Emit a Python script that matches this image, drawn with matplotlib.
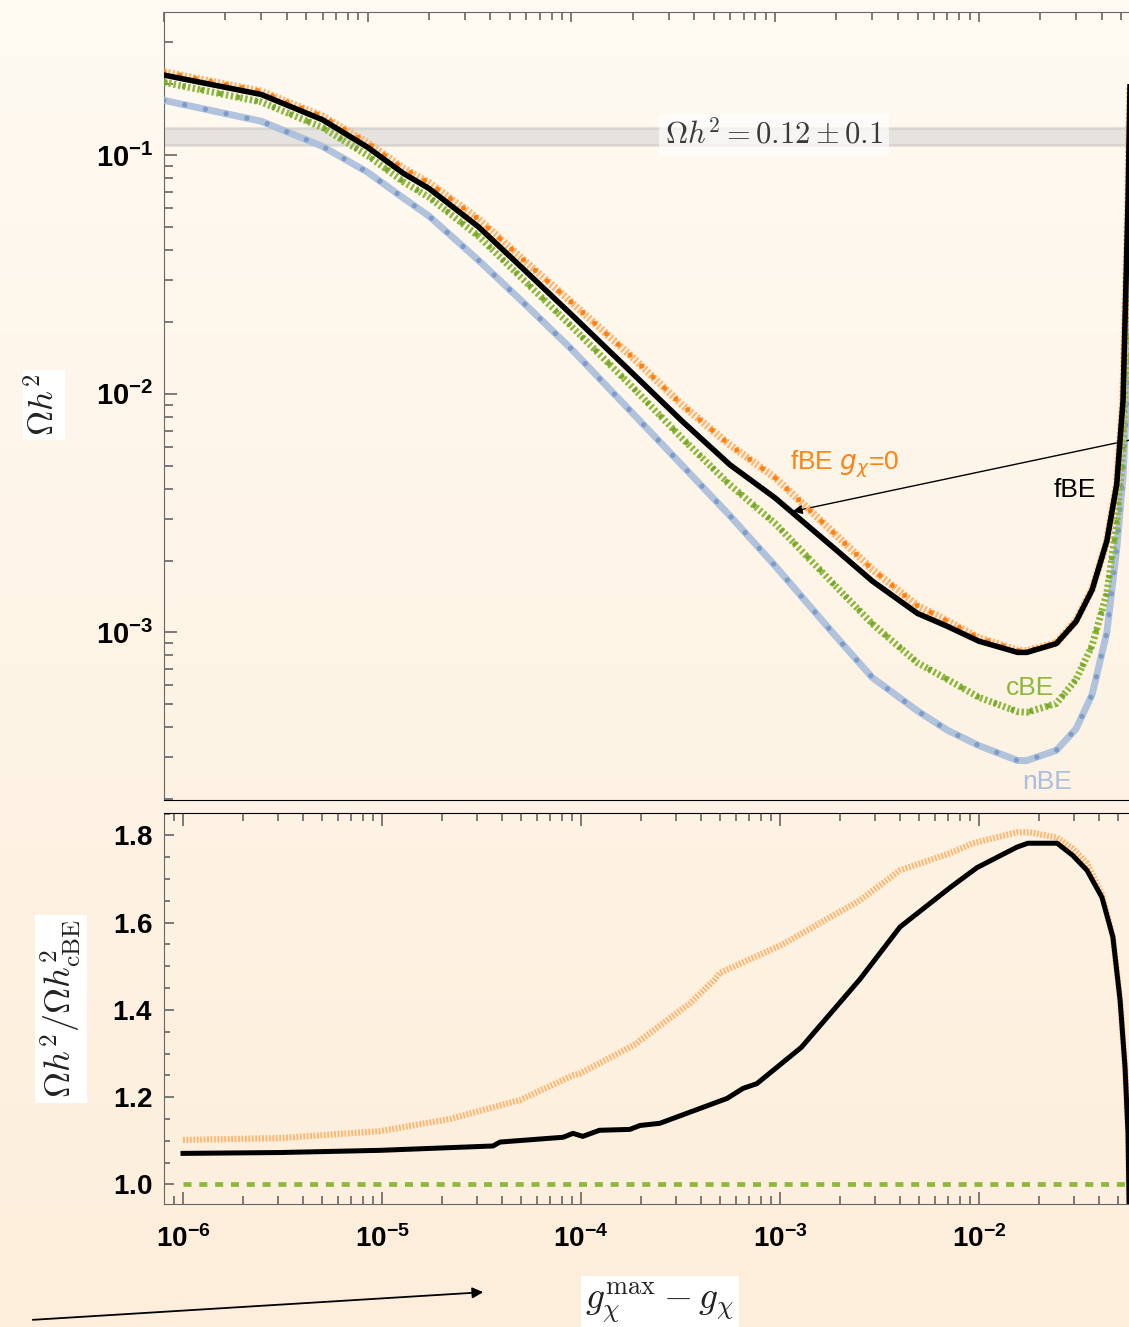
import numpy as np
import matplotlib.pyplot as plt
from matplotlib.colors import LinearSegmentedColormap
from matplotlib.ticker import LogLocator, MultipleLocator, NullFormatter, FuncFormatter

plt.rcParams['font.family'] = 'Liberation Sans'
plt.rcParams['mathtext.fontset'] = 'custom'
plt.rcParams['mathtext.rm'] = 'Liberation Sans'
plt.rcParams['mathtext.it'] = 'Liberation Sans:italic'
plt.rcParams['mathtext.bf'] = 'Liberation Sans:bold'

#%% relic abundance vs g_chi^max - g_chi
dg = [1e-6, 3e-6, 6e-6, 1e-5, 1.5e-5, 2e-5, 3.5e-5, 6e-5, 1e-4, 2e-4, 3.5e-4, 6e-4,
      1e-3, 2e-3, 3e-3, 5e-3, 7e-3, 1e-2, 1.55e-2, 1.72e-2, 2.4e-2, 3e-2, 3.6e-2,
      4.25e-2, 4.75e-2, 5.1e-2, 5.4e-2, 5.6e-2]
omega_fbe = [0.217, 0.180, 0.141, 0.108, 0.0839, 0.0726, 0.0501, 0.0325, 0.0215, 0.01216,
             7.67e-3, 5.04e-3, 3.66e-3, 2.21e-3, 1.64e-3, 1.20e-3, 1.06e-3, 9.18e-4, 8.24e-4,
             8.24e-4, 8.97e-4, 1.11e-3, 1.51e-3, 2.42e-3, 4.17e-3, 9.33e-3, 0.0646, 0.40]
omega_fbe_g0 = [0.2235, 0.1855, 0.1458, 0.1128, 0.0881, 0.0767, 0.0540, 0.0356, 0.0242, 0.0142,
                8.97e-3, 6.10e-3, 4.45e-3, 2.55e-3, 1.835e-3, 1.293e-3, 1.116e-3, 9.48e-4, 8.39e-4,
                8.35e-4, 9.03e-4, 1.12e-3, 1.52e-3, 2.42e-3, 4.17e-3, 9.33e-3, 0.0646, 0.40]
omega_cbe = [0.2024, 0.1674, 0.1308, 0.0998, 0.0773, 0.0667, 0.0458, 0.0293, 0.0192, 0.01064,
             6.50e-3, 4.15e-3, 2.86e-3, 1.55e-3, 1.086e-3, 7.45e-4, 6.35e-4, 5.34e-4, 4.65e-4,
             4.62e-4, 5.03e-4, 6.34e-4, 8.83e-4, 1.46e-3, 2.85e-3, 6.0e-3, 0.025, 0.30]
omega_nbe = [0.170, 0.139, 0.109, 0.0849, 0.0661, 0.0556, 0.0363, 0.0235, 0.0154, 8.28e-3,
             5.01e-3, 3.08e-3, 1.90e-3, 9.55e-4, 6.46e-4, 4.68e-4, 3.89e-4, 3.35e-4, 2.90e-4,
             2.90e-4, 3.20e-4, 3.94e-4, 5.50e-4, 1.0e-3, 2.24e-3, 4.47e-3, 0.0126, 0.16]

# ratios to cBE
dg_r1 = [1e-6, 3.09e-6, 9.77e-6, 3.61e-5, 3.92e-5, 8.13e-5, 9.12e-5, 1.02e-4, 1.24e-4, 1.76e-4,
         1.98e-4, 2.49e-4, 5.42e-4, 6.52e-4, 7.66e-4, 1.28e-3, 2.52e-3, 4.01e-3, 7.14e-3, 9.77e-3,
         1.55e-2, 1.76e-2, 2.47e-2, 2.96e-2, 3.49e-2, 4.15e-2, 4.71e-2, 5.12e-2, 5.42e-2, 5.61e-2, 5.75e-2]
ratio_fbe = [1.071, 1.073, 1.078, 1.088, 1.097, 1.108, 1.117, 1.110, 1.124, 1.126,
             1.135, 1.140, 1.197, 1.220, 1.231, 1.314, 1.470, 1.590, 1.680, 1.726,
             1.773, 1.782, 1.782, 1.754, 1.720, 1.658, 1.567, 1.422, 1.269, 1.118, 0.80]
dg_r2 = [1e-6, 3.07e-6, 9.77e-6, 2.2e-5, 4.55e-5, 4.93e-5, 9.12e-5, 9.89e-5, 1.91e-4, 1.98e-4,
         3.53e-4, 4.71e-4, 4.99e-4, 1.02e-3, 2.52e-3, 4.01e-3, 7.14e-3, 9.33e-3, 1.55e-2, 1.80e-2,
         2.47e-2, 2.96e-2, 3.49e-2, 4.15e-2, 4.71e-2, 5.12e-2, 5.42e-2, 5.61e-2, 5.75e-2]
ratio_fbe_g0 = [1.102, 1.106, 1.122, 1.150, 1.189, 1.193, 1.250, 1.254, 1.323, 1.330,
                1.415, 1.470, 1.485, 1.549, 1.651, 1.720, 1.759, 1.782, 1.807, 1.807,
                1.795, 1.770, 1.736, 1.665, 1.567, 1.422, 1.269, 1.118, 0.80]
ratio_cbe = [1.0, 1.0]
dg_cbe = [1e-6, 6e-2]

planck = 0.12
planck_err = 0.012

#%% colores
c_or = '#ff8214'
c_or_l = '#ffb670'
c_gr = '#8db83c'
c_gr_d = '#78a82e'
c_bl = '#a9bedb'
c_bl_d = '#7c9bcb'
c_tick = '#666666'

W, H = 1129, 1327
fig = plt.figure(figsize=(W / 100, H / 100), dpi=100)

# fondo con degradado
bg = fig.add_axes([0, 0, 1, 1], zorder=-10)
cmap = LinearSegmentedColormap.from_list('fondo', ['#fffaf2', '#fef4e6', '#fdeedb'])
bg.imshow(np.linspace(0, 1, 256)[:, None], aspect='auto', cmap=cmap,
          extent=[0, 1, 0, 1], origin='upper')
bg.axis('off')

def pos(x0, y0, x1, y1):
    return [x0 / W, 1 - y1 / H, (x1 - x0) / W, (y1 - y0) / H]

tx = lambda x, y: (x, H - y)

ax1 = fig.add_axes(pos(164, 12, 1129, 800))
ax2 = fig.add_axes(pos(164, 812.7, 1129, 1204))
for ax in (ax1, ax2):
    ax.set_facecolor('none')
    ax.spines['right'].set_visible(False)

#%% panel superior
ax1.set_xscale('log')
ax1.set_yscale('log')
ax1.set_xlim(1e-6, 10 ** -1.263)
ax1.set_ylim(10 ** -3.703, 10 ** -0.399)

ax1.axhspan(planck - planck_err, planck + planck_err, color='#e6e3de', lw=0, zorder=1)
for v in (0.1101, 0.1284):
    ax1.axhline(v, color='#d8d5d0', lw=1.5, zorder=1)

# linea gruesa + punteado oscuro encima
ax1.plot(dg, omega_nbe, color=c_bl, lw=5, alpha=0.9, zorder=3)
ax1.plot(dg, omega_nbe, color=c_bl_d, lw=3.8, ls=(0, (0.01, 4.0)),
         dash_capstyle='round', zorder=3)
ax1.plot(dg, omega_cbe, color=c_gr, lw=5, ls=(0, (0.35, 0.35)), zorder=4)
ax1.plot(dg, omega_cbe, color=c_gr_d, lw=3.6, ls=(0, (0.7, 3.0)), zorder=4)
ax1.plot(dg, omega_fbe_g0, color=c_or_l, lw=5.5, ls=(0, (0.3, 0.25)), zorder=5)
ax1.plot(dg, omega_fbe_g0, color=c_or, lw=3.8, ls=(0, (0.01, 3.0)),
         dash_capstyle='round', zorder=5)
ax1.plot(dg, omega_fbe, color='black', lw=4, zorder=6)

ax1.annotate(r'$\Omega h^2 = 0.12 \pm 0.1$', xy=tx(774, 135), xycoords='figure pixels',
             fontsize=22, color='#3a3a3a', ha='center', va='center', math_fontfamily='cm',
             bbox=dict(fc='white', ec='none', alpha=0.65, pad=4), zorder=7)

ax1.annotate(r'fBE $g_\chi$=0', xy=tx(845, 464), xycoords='figure pixels', fontsize=19,
             color=c_or, ha='center', va='center', math_fontfamily='dejavusans')
ax1.annotate('fBE', xy=tx(1075, 490), xycoords='figure pixels', fontsize=19,
             color='black', ha='center', va='center')
ax1.annotate('cBE', xy=tx(1030, 688), xycoords='figure pixels', fontsize=19,
             color=c_gr, ha='center', va='center')
ax1.annotate('nBE', xy=tx(1047, 782), xycoords='figure pixels', fontsize=19,
             color=c_bl, ha='center', va='center')
ax1.annotate('', xy=tx(790, 512), xycoords='figure pixels', xytext=tx(1135, 439),
             textcoords='figure pixels', annotation_clip=False,
             arrowprops=dict(arrowstyle='-|>', color='black', lw=1.0, mutation_scale=14))

ax1.xaxis.set_major_locator(LogLocator(base=10, numticks=20))
ax1.xaxis.set_minor_locator(LogLocator(base=10, subs=np.arange(2, 10), numticks=20))
ax1.yaxis.set_major_locator(LogLocator(base=10, numticks=20))
ax1.yaxis.set_minor_locator(LogLocator(base=10, subs=np.arange(2, 10), numticks=20))
ax1.xaxis.set_minor_formatter(NullFormatter())
ax1.yaxis.set_minor_formatter(NullFormatter())
pot = FuncFormatter(lambda v, p: r'$\mathbf{10^{%d}}$' % round(np.log10(v)))
ax1.yaxis.set_major_formatter(pot)
ax1.tick_params(which='both', direction='in', top=True, bottom=False, right=False,
                labelbottom=False, color=c_tick, width=1.2, labelsize=21, pad=8)
ax1.tick_params(axis='x', which='major', length=7.5)
ax1.tick_params(axis='x', which='minor', length=5.5)
ax1.tick_params(axis='y', which='major', length=9.5)
ax1.tick_params(axis='y', which='minor', length=6.5)
for s in ('top', 'left'):
    ax1.spines[s].set_color(c_tick)
ax1.spines['bottom'].set_color('black')

#%% panel inferior
ax2.set_xscale('log')
ax2.set_xlim(10 ** -6.0955, 10 ** -1.246)
ax2.set_ylim(0.955, 1.852)
ax2.plot(dg_cbe, ratio_cbe, color=c_gr, lw=3.4, ls=(0, (1.7, 1.65)), zorder=3)
ax2.plot(dg_r2, ratio_fbe_g0, color=c_or_l, lw=4.5, ls=(0, (0.3, 0.25)), zorder=4)
ax2.plot(dg_r1, ratio_fbe, color='black', lw=3.6, zorder=5)

ax2.xaxis.set_major_locator(LogLocator(base=10, numticks=20))
ax2.xaxis.set_minor_locator(LogLocator(base=10, subs=np.arange(2, 10), numticks=20))
ax2.xaxis.set_major_formatter(pot)
ax2.xaxis.set_minor_formatter(NullFormatter())
ax2.yaxis.set_major_locator(MultipleLocator(0.2))
ax2.yaxis.set_minor_locator(MultipleLocator(0.05))
ax2.yaxis.set_major_formatter(FuncFormatter(lambda v, p: r'$\mathbf{%.1f}$' % v))
ax2.tick_params(which='both', direction='in', top=True, right=False, color=c_tick,
                width=1.2, labelsize=20)
ax2.tick_params(axis='x', which='major', length=9, pad=15)
ax2.tick_params(axis='x', which='minor', length=5.5)
ax2.tick_params(axis='y', which='major', length=7.5, pad=8)
ax2.tick_params(axis='y', which='minor', length=4.5)
for s in ('bottom', 'left'):
    ax2.spines[s].set_color(c_tick)
ax2.spines['top'].set_color('black')

#%% etiquetas de ejes
caja = dict(fc='white', ec='none', pad=3)
fig.text(44 / W, 1 - 405 / H, r'$\Omega h^2$', rotation=90, fontsize=25,
         ha='center', va='center', math_fontfamily='cm', color='#222222', bbox=caja)
fig.text(61 / W, 1 - 1009 / H, r'$\Omega h^2/\Omega h^2_{\rm cBE}$', rotation=90,
         fontsize=26, ha='center', va='center', math_fontfamily='cm', color='#222222',
         bbox=caja)
fig.text(660 / W, 1 - 1303 / H, r'$g_\chi^{\rm max} - g_\chi$', fontsize=27,
         ha='center', va='center', math_fontfamily='cm', color='#222222', bbox=caja)

ax2.annotate('', xy=tx(486, 1292), xycoords='figure pixels', xytext=tx(30, 1320),
             textcoords='figure pixels', annotation_clip=False,
             arrowprops=dict(arrowstyle='-|>', color='black', lw=1.3, mutation_scale=16))

fig.savefig('out.png', dpi=100)
